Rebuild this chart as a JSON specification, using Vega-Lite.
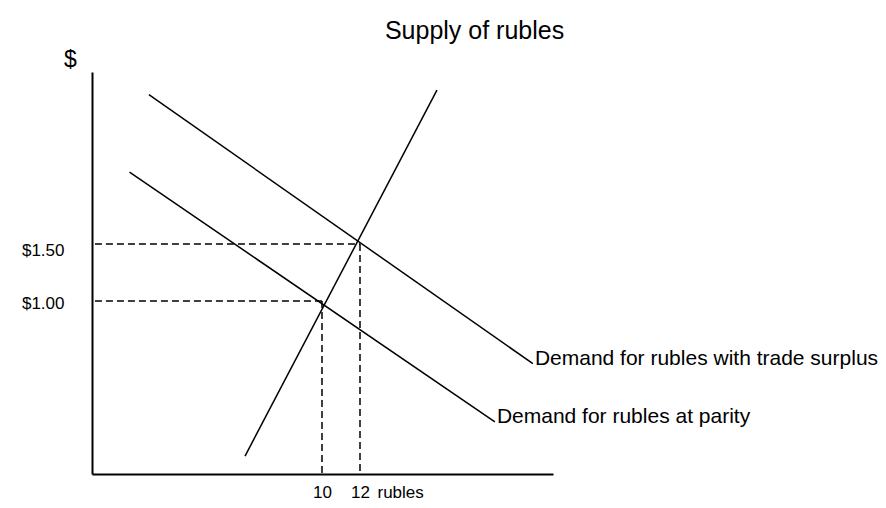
{
  "$schema": "https://vega.github.io/schema/vega-lite/v6.json",
  "width": 461,
  "height": 402,
  "autosize": {"type": "none"},
  "padding": {"left": 92, "top": 72, "right": 333, "bottom": 34},
  "background": "white",
  "config": {"view": {"stroke": null}, "font": "Liberation Sans", "axis": {"grid": false}},
  "datasets": {
    "curves": [
      {"curve": "Supply of rubles", "q": 5.95, "p": -0.36},
      {"curve": "Supply of rubles", "q": 16.05, "p": 2.85},
      {"curve": "Demand for rubles at parity", "q": -0.13, "p": 2.13},
      {"curve": "Demand for rubles at parity", "q": 19.1, "p": -0.06},
      {"curve": "Demand for rubles with trade surplus", "q": 0.89, "p": 2.81},
      {"curve": "Demand for rubles with trade surplus", "q": 21.1, "p": 0.45}
    ],
    "guides": [
      {"q": -1.95, "p": 1.5, "q2": 12, "p2": 1.5},
      {"q": -1.95, "p": 1.0, "q2": 10, "p2": 1.0},
      {"q": 10, "p": 1.0, "q2": 10, "p2": -0.5175},
      {"q": 12, "p": 1.5, "q2": 12, "p2": -0.5175}
    ],
    "labels": [
      {"label": "Demand for rubles with trade surplus", "q": 21.1, "p": 0.45},
      {"label": "Demand for rubles at parity", "q": 19.1, "p": -0.06}
    ],
    "heading": [
      {"label": "Supply of rubles", "q": 18.03, "p": 3.3}
    ]
  },
  "layer": [
    {
      "data": {"name": "curves"},
      "mark": {"type": "line", "color": "black", "strokeWidth": 1.5},
      "encoding": {
        "x": {
          "field": "q", "type": "quantitative",
          "scale": {"domain": [-2.105, 22.158], "nice": false, "zero": false},
          "axis": {
            "values": [10, 12], "ticks": false, "tickSize": 0,
            "domainColor": "black", "domainWidth": 2,
            "labelFontSize": 17, "labelColor": "black", "labelPadding": 23,
            "labelBaseline": "alphabetic", "labelFlush": false,
            "title": "rubles", "titleX": 285, "titleY": 23, "titleAlign": "left",
            "titleBaseline": "alphabetic", "titleFontSize": 17, "titleFontWeight": "normal",
            "titleColor": "black"
          }
        },
        "y": {
          "field": "p", "type": "quantitative",
          "scale": {"domain": [-0.5175, 3.0088], "nice": false, "zero": false},
          "axis": {
            "values": [1, 1.5], "ticks": false, "tickSize": 0,
            "domainColor": "black", "domainWidth": 2,
            "labelFontSize": 17, "labelColor": "black", "labelPadding": 28,
            "labelExpr": "'$' + format(datum.value, '.2f')",
            "labelOffset": {"expr": "datum.value == 1.5 ? 6 : 2"},
            "title": "$", "titleAngle": 0, "titleX": -22, "titleY": -6,
            "titleAlign": "center", "titleBaseline": "alphabetic",
            "titleFontSize": 23, "titleFontWeight": "normal", "titleColor": "black"
          }
        },
        "detail": {"field": "curve"},
        "order": {"field": "q"}
      }
    },
    {
      "data": {"name": "guides"},
      "mark": {"type": "rule", "color": "black", "strokeWidth": 1.5, "strokeDash": [7, 4]},
      "encoding": {
        "x": {"field": "q", "type": "quantitative"},
        "x2": {"field": "q2"},
        "y": {"field": "p", "type": "quantitative"},
        "y2": {"field": "p2"}
      }
    },
    {
      "data": {"name": "labels"},
      "mark": {"type": "text", "align": "left", "baseline": "alphabetic", "fontSize": 21, "dx": 2, "dy": 1, "color": "black"},
      "encoding": {
        "x": {"field": "q", "type": "quantitative"},
        "y": {"field": "p", "type": "quantitative"},
        "text": {"field": "label"}
      }
    },
    {
      "data": {"name": "heading"},
      "mark": {"type": "text", "align": "center", "baseline": "alphabetic", "fontSize": 25, "color": "black"},
      "encoding": {
        "x": {"field": "q", "type": "quantitative"},
        "y": {"field": "p", "type": "quantitative"},
        "text": {"field": "label"}
      }
    }
  ]
}
